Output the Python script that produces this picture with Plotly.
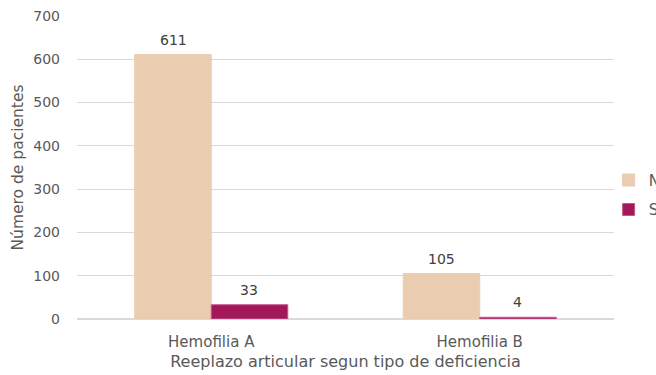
import plotly.graph_objects as go

categorias = ["Hemofilia A", "Hemofilia B"]
serie_no = [611, 105]
serie_si = [33, 4]
nombres = ["No", "Sí"]
colores = ["#EACDB0", "#A3185A"]
bordes = ["#EACDB0", "#C4588A"]

FUENTE = "DejaVu Sans, Open Sans, sans-serif"
GRIS = "#595959"

fig = go.Figure()
series = [serie_no, serie_si]
desplazamientos = [-38, 38]
for i, (nombre, valores, color, borde) in enumerate(zip(nombres, series, colores, bordes)):
    fig.add_trace(go.Bar(
        x=categorias, y=valores, name=nombre, legendgroup=nombre,
        marker=dict(color=color, line=dict(color=borde, width=1)),
        hoverinfo="x+y+name",
    ))
    # value labels above each bar
    for cat, v in zip(categorias, valores):
        fig.add_annotation(
            x=cat, y=v, text=str(v), showarrow=False,
            xref="x", yref="y", xshift=desplazamientos[i],
            yanchor="bottom", yshift=5,
            font=dict(family=FUENTE, size=14, color="#404040"),
        )

fig.update_layout(
    width=656, height=375,
    margin=dict(l=77, r=42, t=16, b=56, autoexpand=False),
    paper_bgcolor="white", plot_bgcolor="white",
    font=dict(family=FUENTE, size=14, color=GRIS),
    barmode="group", bargap=0.43, bargroupgap=0,
    showlegend=True,
    legend=dict(x=0.99, y=0.41, xanchor="left", yanchor="middle",
                font=dict(family=FUENTE, size=15, color=GRIS),
                itemwidth=30, tracegroupgap=7, bgcolor="rgba(0,0,0,0)"),
    xaxis=dict(
        title=dict(text="Reeplazo articular segun tipo de deficiencia", standoff=5,
                   font=dict(family=FUENTE, size=16, color=GRIS)),
        showline=True, linecolor="#D9D9D9", linewidth=1,
        tickfont=dict(family=FUENTE, size=15, color=GRIS),
        ticks="", ticklabelstandoff=9,
    ),
    yaxis=dict(
        title=dict(text="Número de pacientes", standoff=5,
                   font=dict(family=FUENTE, size=15.5, color=GRIS)),
        range=[0, 700], dtick=100,
        showgrid=True, gridcolor="#D9D9D9", gridwidth=1,
        zeroline=True, zerolinecolor="#D9D9D9",
        tickfont=dict(family=FUENTE, size=14, color=GRIS),
        ticklabelstandoff=16,
    ),
)

fig.write_html("out.html")
